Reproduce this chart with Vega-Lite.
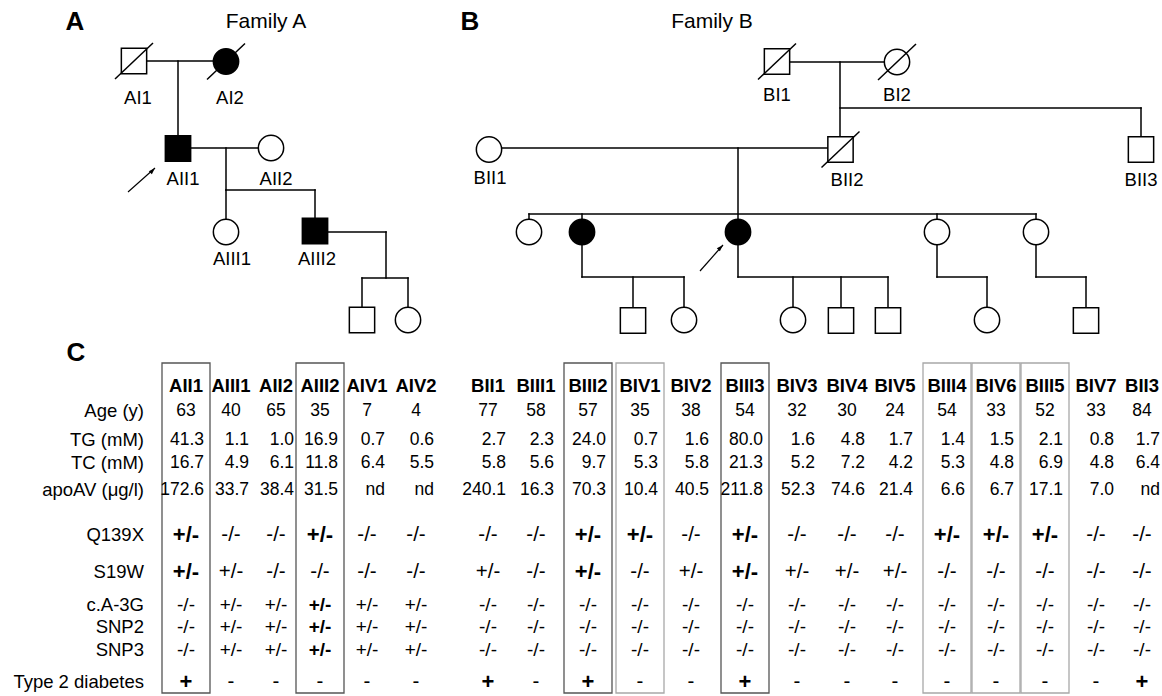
{
  "$schema": "https://vega.github.io/schema/vega-lite/v6.json",
  "width": 1162,
  "height": 696,
  "autosize": {"type": "fit", "contains": "padding"},
  "padding": 0,
  "background": "white",
  "config": {"view": {"stroke": null}, "text": {"font": "Liberation Sans", "color": "black"}},
  "datasets": {
    "people": [
      {"id": "AI1", "sex": "M", "x": 134, "y": 61, "affected": false, "deceased": true},
      {"id": "AI2", "sex": "F", "x": 226, "y": 61.5, "affected": true, "deceased": true},
      {"id": "AII1", "sex": "M", "x": 178, "y": 148.5, "affected": true, "deceased": false},
      {"id": "AII2", "sex": "F", "x": 271, "y": 148, "affected": false, "deceased": false},
      {"id": "AIII1", "sex": "F", "x": 226, "y": 232, "affected": false, "deceased": false},
      {"id": "AIII2", "sex": "M", "x": 315, "y": 231, "affected": true, "deceased": false},
      {"id": "AIV1", "sex": "M", "x": 362, "y": 320, "affected": false, "deceased": false},
      {"id": "AIV2", "sex": "F", "x": 408, "y": 320, "affected": false, "deceased": false},
      {"id": "BI1", "sex": "M", "x": 777, "y": 61.5, "affected": false, "deceased": true},
      {"id": "BI2", "sex": "F", "x": 897, "y": 62, "affected": false, "deceased": true},
      {"id": "BII1", "sex": "F", "x": 489, "y": 149.5, "affected": false, "deceased": false},
      {"id": "BII2", "sex": "M", "x": 840.5, "y": 149.5, "affected": false, "deceased": true},
      {"id": "BII3", "sex": "M", "x": 1141, "y": 149.5, "affected": false, "deceased": false},
      {"id": "BIII1", "sex": "F", "x": 529, "y": 232, "affected": false, "deceased": false},
      {"id": "BIII2", "sex": "F", "x": 582, "y": 232, "affected": true, "deceased": false},
      {"id": "BIII3", "sex": "F", "x": 738, "y": 232, "affected": true, "deceased": false},
      {"id": "BIII4", "sex": "F", "x": 937, "y": 232, "affected": false, "deceased": false},
      {"id": "BIII5", "sex": "F", "x": 1036, "y": 232, "affected": false, "deceased": false},
      {"id": "BIV1", "sex": "M", "x": 633, "y": 320.5, "affected": false, "deceased": false},
      {"id": "BIV2", "sex": "F", "x": 684, "y": 320, "affected": false, "deceased": false},
      {"id": "BIV3", "sex": "F", "x": 793, "y": 320, "affected": false, "deceased": false},
      {"id": "BIV4", "sex": "M", "x": 841, "y": 320.5, "affected": false, "deceased": false},
      {"id": "BIV5", "sex": "M", "x": 888, "y": 320.5, "affected": false, "deceased": false},
      {"id": "BIV6", "sex": "F", "x": 987, "y": 320, "affected": false, "deceased": false},
      {"id": "BIV7", "sex": "M", "x": 1086, "y": 320.5, "affected": false, "deceased": false}
    ],
    "links": [
      {"x": 146, "y": 61, "x2": 213, "y2": 61},
      {"x": 178, "y": 61, "x2": 178, "y2": 136},
      {"x": 191, "y": 148, "x2": 258, "y2": 148},
      {"x": 226, "y": 148, "x2": 226, "y2": 190},
      {"x": 226, "y": 190, "x2": 315, "y2": 190},
      {"x": 226, "y": 190, "x2": 226, "y2": 219},
      {"x": 315, "y": 190, "x2": 315, "y2": 218},
      {"x": 327, "y": 232, "x2": 386, "y2": 232},
      {"x": 386, "y": 232, "x2": 386, "y2": 278},
      {"x": 362, "y": 278, "x2": 408, "y2": 278},
      {"x": 362, "y": 278, "x2": 362, "y2": 307},
      {"x": 408, "y": 278, "x2": 408, "y2": 307},
      {"x": 789, "y": 62, "x2": 884, "y2": 62},
      {"x": 840, "y": 62, "x2": 840, "y2": 137},
      {"x": 840, "y": 108, "x2": 1141, "y2": 108},
      {"x": 1141, "y": 108, "x2": 1141, "y2": 137},
      {"x": 502, "y": 148, "x2": 828, "y2": 148},
      {"x": 738, "y": 148, "x2": 738, "y2": 219},
      {"x": 529, "y": 214, "x2": 1036, "y2": 214},
      {"x": 529, "y": 214, "x2": 529, "y2": 219},
      {"x": 582, "y": 214, "x2": 582, "y2": 219},
      {"x": 937, "y": 214, "x2": 937, "y2": 219},
      {"x": 1036, "y": 214, "x2": 1036, "y2": 219},
      {"x": 582, "y": 245, "x2": 582, "y2": 277},
      {"x": 582, "y": 277, "x2": 684, "y2": 277},
      {"x": 633, "y": 277, "x2": 633, "y2": 308},
      {"x": 684, "y": 277, "x2": 684, "y2": 307},
      {"x": 738, "y": 245, "x2": 738, "y2": 277},
      {"x": 738, "y": 277, "x2": 888, "y2": 277},
      {"x": 793, "y": 277, "x2": 793, "y2": 307},
      {"x": 841, "y": 277, "x2": 841, "y2": 308},
      {"x": 888, "y": 277, "x2": 888, "y2": 308},
      {"x": 937, "y": 245, "x2": 937, "y2": 277},
      {"x": 937, "y": 277, "x2": 987, "y2": 277},
      {"x": 987, "y": 277, "x2": 987, "y2": 307},
      {"x": 1036, "y": 245, "x2": 1036, "y2": 277},
      {"x": 1036, "y": 277, "x2": 1086, "y2": 277},
      {"x": 1086, "y": 277, "x2": 1086, "y2": 308}
    ],
    "arrows": [
      {"proband": "AII1", "x": 128, "y": 192, "x2": 155, "y2": 168},
      {"proband": "BIII3", "x": 700, "y": 271, "x2": 723, "y2": 245}
    ],
    "pedlabels": [
      {"text": "AI1", "x": 138, "y": 98},
      {"text": "AI2", "x": 230, "y": 98},
      {"text": "AII1", "x": 183, "y": 179},
      {"text": "AII2", "x": 276, "y": 179},
      {"text": "AIII1", "x": 232, "y": 259},
      {"text": "AIII2", "x": 317, "y": 259},
      {"text": "BI1", "x": 777, "y": 95},
      {"text": "BI2", "x": 897, "y": 95},
      {"text": "BII1", "x": 490, "y": 178},
      {"text": "BII2", "x": 847, "y": 180},
      {"text": "BII3", "x": 1141, "y": 180}
    ],
    "titles": [
      {"text": "A", "x": 75, "y": 22, "kind": "panel"},
      {"text": "B", "x": 470, "y": 22, "kind": "panel"},
      {"text": "C", "x": 76, "y": 353, "kind": "panel"},
      {"text": "Family A", "x": 266, "y": 22, "kind": "family"},
      {"text": "Family B", "x": 712, "y": 22, "kind": "family"}
    ],
    "cols": [
      {"id": "AII1", "x": 186, "box": "dark"},
      {"id": "AIII1", "x": 231, "box": null},
      {"id": "AII2", "x": 276, "box": null},
      {"id": "AIII2", "x": 320, "box": "dark"},
      {"id": "AIV1", "x": 367, "box": null},
      {"id": "AIV2", "x": 416, "box": null},
      {"id": "BII1", "x": 488, "box": null},
      {"id": "BIII1", "x": 536, "box": null},
      {"id": "BIII2", "x": 588, "box": "dark"},
      {"id": "BIV1", "x": 640, "box": "light"},
      {"id": "BIV2", "x": 691, "box": null},
      {"id": "BIII3", "x": 745, "box": "dark"},
      {"id": "BIV3", "x": 797, "box": null},
      {"id": "BIV4", "x": 847, "box": null},
      {"id": "BIV5", "x": 895, "box": null},
      {"id": "BIII4", "x": 947, "box": "light"},
      {"id": "BIV6", "x": 996, "box": "light"},
      {"id": "BIII5", "x": 1045, "box": "light"},
      {"id": "BIV7", "x": 1096, "box": null},
      {"id": "BII3", "x": 1142, "box": null}
    ],
    "rowdefs": [
      {"var": "Age", "label": "Age (y)", "y": 411, "kind": "age"},
      {"var": "TG", "label": "TG (mM)", "y": 440, "kind": "num"},
      {"var": "TC", "label": "TC (mM)", "y": 463, "kind": "num"},
      {"var": "apoAV", "label": "apoAV (μg/l)", "y": 490, "kind": "num"},
      {"var": "Q139X", "label": "Q139X", "y": 535, "kind": "geno"},
      {"var": "S19W", "label": "S19W", "y": 572, "kind": "geno"},
      {"var": "c.A-3G", "label": "c.A-3G", "y": 605, "kind": "geno_dense"},
      {"var": "SNP2", "label": "SNP2", "y": 627, "kind": "geno_dense"},
      {"var": "SNP3", "label": "SNP3", "y": 650, "kind": "geno_dense"},
      {"var": "T2D", "label": "Type 2 diabetes", "y": 682, "kind": "geno"}
    ],
    "cells": [
      {"id": "AII1", "var": "Age", "value": "63"}, {"id": "AIII1", "var": "Age", "value": "40"}, {"id": "AII2", "var": "Age", "value": "65"}, {"id": "AIII2", "var": "Age", "value": "35"}, {"id": "AIV1", "var": "Age", "value": "7"}, {"id": "AIV2", "var": "Age", "value": "4"}, {"id": "BII1", "var": "Age", "value": "77"}, {"id": "BIII1", "var": "Age", "value": "58"}, {"id": "BIII2", "var": "Age", "value": "57"}, {"id": "BIV1", "var": "Age", "value": "35"}, {"id": "BIV2", "var": "Age", "value": "38"}, {"id": "BIII3", "var": "Age", "value": "54"}, {"id": "BIV3", "var": "Age", "value": "32"}, {"id": "BIV4", "var": "Age", "value": "30"}, {"id": "BIV5", "var": "Age", "value": "24"}, {"id": "BIII4", "var": "Age", "value": "54"}, {"id": "BIV6", "var": "Age", "value": "33"}, {"id": "BIII5", "var": "Age", "value": "52"}, {"id": "BIV7", "var": "Age", "value": "33"}, {"id": "BII3", "var": "Age", "value": "84"},
      {"id": "AII1", "var": "TG", "value": "41.3"}, {"id": "AIII1", "var": "TG", "value": "1.1"}, {"id": "AII2", "var": "TG", "value": "1.0"}, {"id": "AIII2", "var": "TG", "value": "16.9"}, {"id": "AIV1", "var": "TG", "value": "0.7"}, {"id": "AIV2", "var": "TG", "value": "0.6"}, {"id": "BII1", "var": "TG", "value": "2.7"}, {"id": "BIII1", "var": "TG", "value": "2.3"}, {"id": "BIII2", "var": "TG", "value": "24.0"}, {"id": "BIV1", "var": "TG", "value": "0.7"}, {"id": "BIV2", "var": "TG", "value": "1.6"}, {"id": "BIII3", "var": "TG", "value": "80.0"}, {"id": "BIV3", "var": "TG", "value": "1.6"}, {"id": "BIV4", "var": "TG", "value": "4.8"}, {"id": "BIV5", "var": "TG", "value": "1.7"}, {"id": "BIII4", "var": "TG", "value": "1.4"}, {"id": "BIV6", "var": "TG", "value": "1.5"}, {"id": "BIII5", "var": "TG", "value": "2.1"}, {"id": "BIV7", "var": "TG", "value": "0.8"}, {"id": "BII3", "var": "TG", "value": "1.7"},
      {"id": "AII1", "var": "TC", "value": "16.7"}, {"id": "AIII1", "var": "TC", "value": "4.9"}, {"id": "AII2", "var": "TC", "value": "6.1"}, {"id": "AIII2", "var": "TC", "value": "11.8"}, {"id": "AIV1", "var": "TC", "value": "6.4"}, {"id": "AIV2", "var": "TC", "value": "5.5"}, {"id": "BII1", "var": "TC", "value": "5.8"}, {"id": "BIII1", "var": "TC", "value": "5.6"}, {"id": "BIII2", "var": "TC", "value": "9.7"}, {"id": "BIV1", "var": "TC", "value": "5.3"}, {"id": "BIV2", "var": "TC", "value": "5.8"}, {"id": "BIII3", "var": "TC", "value": "21.3"}, {"id": "BIV3", "var": "TC", "value": "5.2"}, {"id": "BIV4", "var": "TC", "value": "7.2"}, {"id": "BIV5", "var": "TC", "value": "4.2"}, {"id": "BIII4", "var": "TC", "value": "5.3"}, {"id": "BIV6", "var": "TC", "value": "4.8"}, {"id": "BIII5", "var": "TC", "value": "6.9"}, {"id": "BIV7", "var": "TC", "value": "4.8"}, {"id": "BII3", "var": "TC", "value": "6.4"},
      {"id": "AII1", "var": "apoAV", "value": "172.6"}, {"id": "AIII1", "var": "apoAV", "value": "33.7"}, {"id": "AII2", "var": "apoAV", "value": "38.4"}, {"id": "AIII2", "var": "apoAV", "value": "31.5"}, {"id": "AIV1", "var": "apoAV", "value": "nd"}, {"id": "AIV2", "var": "apoAV", "value": "nd"}, {"id": "BII1", "var": "apoAV", "value": "240.1"}, {"id": "BIII1", "var": "apoAV", "value": "16.3"}, {"id": "BIII2", "var": "apoAV", "value": "70.3"}, {"id": "BIV1", "var": "apoAV", "value": "10.4"}, {"id": "BIV2", "var": "apoAV", "value": "40.5"}, {"id": "BIII3", "var": "apoAV", "value": "211.8"}, {"id": "BIV3", "var": "apoAV", "value": "52.3"}, {"id": "BIV4", "var": "apoAV", "value": "74.6"}, {"id": "BIV5", "var": "apoAV", "value": "21.4"}, {"id": "BIII4", "var": "apoAV", "value": "6.6"}, {"id": "BIV6", "var": "apoAV", "value": "6.7"}, {"id": "BIII5", "var": "apoAV", "value": "17.1"}, {"id": "BIV7", "var": "apoAV", "value": "7.0"}, {"id": "BII3", "var": "apoAV", "value": "nd"},
      {"id": "AII1", "var": "Q139X", "value": "+/-", "highlight": true}, {"id": "AIII1", "var": "Q139X", "value": "-/-"}, {"id": "AII2", "var": "Q139X", "value": "-/-"}, {"id": "AIII2", "var": "Q139X", "value": "+/-", "highlight": true}, {"id": "AIV1", "var": "Q139X", "value": "-/-"}, {"id": "AIV2", "var": "Q139X", "value": "-/-"}, {"id": "BII1", "var": "Q139X", "value": "-/-"}, {"id": "BIII1", "var": "Q139X", "value": "-/-"}, {"id": "BIII2", "var": "Q139X", "value": "+/-", "highlight": true}, {"id": "BIV1", "var": "Q139X", "value": "+/-", "highlight": true}, {"id": "BIV2", "var": "Q139X", "value": "-/-"}, {"id": "BIII3", "var": "Q139X", "value": "+/-", "highlight": true}, {"id": "BIV3", "var": "Q139X", "value": "-/-"}, {"id": "BIV4", "var": "Q139X", "value": "-/-"}, {"id": "BIV5", "var": "Q139X", "value": "-/-"}, {"id": "BIII4", "var": "Q139X", "value": "+/-", "highlight": true}, {"id": "BIV6", "var": "Q139X", "value": "+/-", "highlight": true}, {"id": "BIII5", "var": "Q139X", "value": "+/-", "highlight": true}, {"id": "BIV7", "var": "Q139X", "value": "-/-"}, {"id": "BII3", "var": "Q139X", "value": "-/-"},
      {"id": "AII1", "var": "S19W", "value": "+/-", "highlight": true}, {"id": "AIII1", "var": "S19W", "value": "+/-"}, {"id": "AII2", "var": "S19W", "value": "-/-"}, {"id": "AIII2", "var": "S19W", "value": "-/-"}, {"id": "AIV1", "var": "S19W", "value": "-/-"}, {"id": "AIV2", "var": "S19W", "value": "-/-"}, {"id": "BII1", "var": "S19W", "value": "+/-"}, {"id": "BIII1", "var": "S19W", "value": "-/-"}, {"id": "BIII2", "var": "S19W", "value": "+/-", "highlight": true}, {"id": "BIV1", "var": "S19W", "value": "-/-"}, {"id": "BIV2", "var": "S19W", "value": "+/-"}, {"id": "BIII3", "var": "S19W", "value": "+/-", "highlight": true}, {"id": "BIV3", "var": "S19W", "value": "+/-"}, {"id": "BIV4", "var": "S19W", "value": "+/-"}, {"id": "BIV5", "var": "S19W", "value": "+/-"}, {"id": "BIII4", "var": "S19W", "value": "-/-"}, {"id": "BIV6", "var": "S19W", "value": "-/-"}, {"id": "BIII5", "var": "S19W", "value": "-/-"}, {"id": "BIV7", "var": "S19W", "value": "-/-"}, {"id": "BII3", "var": "S19W", "value": "-/-"},
      {"id": "AII1", "var": "c.A-3G", "value": "-/-"}, {"id": "AIII1", "var": "c.A-3G", "value": "+/-"}, {"id": "AII2", "var": "c.A-3G", "value": "+/-"}, {"id": "AIII2", "var": "c.A-3G", "value": "+/-", "highlight": true}, {"id": "AIV1", "var": "c.A-3G", "value": "+/-"}, {"id": "AIV2", "var": "c.A-3G", "value": "+/-"}, {"id": "BII1", "var": "c.A-3G", "value": "-/-"}, {"id": "BIII1", "var": "c.A-3G", "value": "-/-"}, {"id": "BIII2", "var": "c.A-3G", "value": "-/-"}, {"id": "BIV1", "var": "c.A-3G", "value": "-/-"}, {"id": "BIV2", "var": "c.A-3G", "value": "-/-"}, {"id": "BIII3", "var": "c.A-3G", "value": "-/-"}, {"id": "BIV3", "var": "c.A-3G", "value": "-/-"}, {"id": "BIV4", "var": "c.A-3G", "value": "-/-"}, {"id": "BIV5", "var": "c.A-3G", "value": "-/-"}, {"id": "BIII4", "var": "c.A-3G", "value": "-/-"}, {"id": "BIV6", "var": "c.A-3G", "value": "-/-"}, {"id": "BIII5", "var": "c.A-3G", "value": "-/-"}, {"id": "BIV7", "var": "c.A-3G", "value": "-/-"}, {"id": "BII3", "var": "c.A-3G", "value": "-/-"},
      {"id": "AII1", "var": "SNP2", "value": "-/-"}, {"id": "AIII1", "var": "SNP2", "value": "+/-"}, {"id": "AII2", "var": "SNP2", "value": "+/-"}, {"id": "AIII2", "var": "SNP2", "value": "+/-", "highlight": true}, {"id": "AIV1", "var": "SNP2", "value": "+/-"}, {"id": "AIV2", "var": "SNP2", "value": "+/-"}, {"id": "BII1", "var": "SNP2", "value": "-/-"}, {"id": "BIII1", "var": "SNP2", "value": "-/-"}, {"id": "BIII2", "var": "SNP2", "value": "-/-"}, {"id": "BIV1", "var": "SNP2", "value": "-/-"}, {"id": "BIV2", "var": "SNP2", "value": "-/-"}, {"id": "BIII3", "var": "SNP2", "value": "-/-"}, {"id": "BIV3", "var": "SNP2", "value": "-/-"}, {"id": "BIV4", "var": "SNP2", "value": "-/-"}, {"id": "BIV5", "var": "SNP2", "value": "-/-"}, {"id": "BIII4", "var": "SNP2", "value": "-/-"}, {"id": "BIV6", "var": "SNP2", "value": "-/-"}, {"id": "BIII5", "var": "SNP2", "value": "-/-"}, {"id": "BIV7", "var": "SNP2", "value": "-/-"}, {"id": "BII3", "var": "SNP2", "value": "-/-"},
      {"id": "AII1", "var": "SNP3", "value": "-/-"}, {"id": "AIII1", "var": "SNP3", "value": "+/-"}, {"id": "AII2", "var": "SNP3", "value": "+/-"}, {"id": "AIII2", "var": "SNP3", "value": "+/-", "highlight": true}, {"id": "AIV1", "var": "SNP3", "value": "+/-"}, {"id": "AIV2", "var": "SNP3", "value": "+/-"}, {"id": "BII1", "var": "SNP3", "value": "-/-"}, {"id": "BIII1", "var": "SNP3", "value": "-/-"}, {"id": "BIII2", "var": "SNP3", "value": "-/-"}, {"id": "BIV1", "var": "SNP3", "value": "-/-"}, {"id": "BIV2", "var": "SNP3", "value": "-/-"}, {"id": "BIII3", "var": "SNP3", "value": "-/-"}, {"id": "BIV3", "var": "SNP3", "value": "-/-"}, {"id": "BIV4", "var": "SNP3", "value": "-/-"}, {"id": "BIV5", "var": "SNP3", "value": "-/-"}, {"id": "BIII4", "var": "SNP3", "value": "-/-"}, {"id": "BIV6", "var": "SNP3", "value": "-/-"}, {"id": "BIII5", "var": "SNP3", "value": "-/-"}, {"id": "BIV7", "var": "SNP3", "value": "-/-"}, {"id": "BII3", "var": "SNP3", "value": "-/-"},
      {"id": "AII1", "var": "T2D", "value": "+", "highlight": true}, {"id": "AIII1", "var": "T2D", "value": "-"}, {"id": "AII2", "var": "T2D", "value": "-"}, {"id": "AIII2", "var": "T2D", "value": "-"}, {"id": "AIV1", "var": "T2D", "value": "-"}, {"id": "AIV2", "var": "T2D", "value": "-"}, {"id": "BII1", "var": "T2D", "value": "+", "highlight": true}, {"id": "BIII1", "var": "T2D", "value": "-"}, {"id": "BIII2", "var": "T2D", "value": "+", "highlight": true}, {"id": "BIV1", "var": "T2D", "value": "-"}, {"id": "BIV2", "var": "T2D", "value": "-"}, {"id": "BIII3", "var": "T2D", "value": "+", "highlight": true}, {"id": "BIV3", "var": "T2D", "value": "-"}, {"id": "BIV4", "var": "T2D", "value": "-"}, {"id": "BIV5", "var": "T2D", "value": "-"}, {"id": "BIII4", "var": "T2D", "value": "-"}, {"id": "BIV6", "var": "T2D", "value": "-"}, {"id": "BIII5", "var": "T2D", "value": "-"}, {"id": "BIV7", "var": "T2D", "value": "-"}, {"id": "BII3", "var": "T2D", "value": "+", "highlight": true}
    ]
  },
  "layer": [
    {
      "data": {"name": "links"},
      "mark": {"type": "rule", "stroke": "black", "strokeWidth": 1.5, "strokeCap": "square"},
      "encoding": {
        "x": {"field": "x", "type": "quantitative", "scale": {"domain": [0, 1162], "nice": false, "zero": false}, "axis": null},
        "y": {"field": "y", "type": "quantitative", "scale": {"domain": [0, 696], "reverse": true, "nice": false, "zero": false}, "axis": null},
        "x2": {"field": "x2"},
        "y2": {"field": "y2"}
      }
    },
    {
      "data": {"name": "people"},
      "mark": {"type": "point", "filled": true, "stroke": "black", "strokeWidth": 1.5, "opacity": 1, "strokeOpacity": 1, "fillOpacity": 1},
      "encoding": {
        "x": {"field": "x", "type": "quantitative", "scale": {"domain": [0, 1162], "nice": false, "zero": false}, "axis": null},
        "y": {"field": "y", "type": "quantitative", "scale": {"domain": [0, 696], "reverse": true, "nice": false, "zero": false}, "axis": null},
        "shape": {"field": "sex", "type": "nominal", "scale": {"domain": ["M", "F"], "range": ["square", "circle"]}, "legend": null},
        "fill": {"condition": {"test": "datum.affected", "value": "black"}, "value": "white"},
        "size": {"value": 640}
      }
    },
    {
      "data": {"name": "people"},
      "transform": [{"filter": "datum.deceased"}],
      "mark": {"type": "rule", "stroke": "black", "strokeWidth": 1.5, "xOffset": -19, "yOffset": 18, "x2Offset": 19, "y2Offset": -18},
      "encoding": {
        "x": {"field": "x", "type": "quantitative", "scale": {"domain": [0, 1162], "nice": false, "zero": false}, "axis": null},
        "y": {"field": "y", "type": "quantitative", "scale": {"domain": [0, 696], "reverse": true, "nice": false, "zero": false}, "axis": null},
        "x2": {"field": "x"},
        "y2": {"field": "y"}
      }
    },
    {
      "data": {"name": "arrows"},
      "mark": {"type": "rule", "stroke": "black", "strokeWidth": 1.2},
      "encoding": {
        "x": {"field": "x", "type": "quantitative", "scale": {"domain": [0, 1162], "nice": false, "zero": false}, "axis": null},
        "y": {"field": "y", "type": "quantitative", "scale": {"domain": [0, 696], "reverse": true, "nice": false, "zero": false}, "axis": null},
        "x2": {"field": "x2"},
        "y2": {"field": "y2"}
      }
    },
    {
      "data": {"name": "arrows"},
      "mark": {"type": "point", "filled": true, "color": "black", "opacity": 1, "shape": "M0,0L-0.55,1.7L0.55,1.7Z", "size": 60, "angle": 45},
      "encoding": {
        "x": {"field": "x2", "type": "quantitative", "scale": {"domain": [0, 1162], "nice": false, "zero": false}, "axis": null},
        "y": {"field": "y2", "type": "quantitative", "scale": {"domain": [0, 696], "reverse": true, "nice": false, "zero": false}, "axis": null}
      }
    },
    {
      "data": {"name": "pedlabels"},
      "mark": {"type": "text", "fontSize": 18.5, "align": "center", "baseline": "middle"},
      "encoding": {
        "x": {"field": "x", "type": "quantitative", "scale": {"domain": [0, 1162], "nice": false, "zero": false}, "axis": null},
        "y": {"field": "y", "type": "quantitative", "scale": {"domain": [0, 696], "reverse": true, "nice": false, "zero": false}, "axis": null},
        "text": {"field": "text"}
      }
    },
    {
      "data": {"name": "titles"},
      "transform": [{"filter": "datum.kind === 'panel'"}],
      "mark": {"type": "text", "fontSize": 26, "fontWeight": 900, "align": "center", "baseline": "middle"},
      "encoding": {
        "x": {"field": "x", "type": "quantitative", "scale": {"domain": [0, 1162], "nice": false, "zero": false}, "axis": null},
        "y": {"field": "y", "type": "quantitative", "scale": {"domain": [0, 696], "reverse": true, "nice": false, "zero": false}, "axis": null},
        "text": {"field": "text"}
      }
    },
    {
      "data": {"name": "titles"},
      "transform": [{"filter": "datum.kind === 'family'"}],
      "mark": {"type": "text", "fontSize": 21, "align": "center", "baseline": "middle"},
      "encoding": {
        "x": {"field": "x", "type": "quantitative", "scale": {"domain": [0, 1162], "nice": false, "zero": false}, "axis": null},
        "y": {"field": "y", "type": "quantitative", "scale": {"domain": [0, 696], "reverse": true, "nice": false, "zero": false}, "axis": null},
        "text": {"field": "text"}
      }
    },
    {
      "data": {"name": "cols"},
      "transform": [{"filter": "datum.box != null"}],
      "mark": {"type": "rect", "filled": false, "strokeWidth": 1.3, "xOffset": -24, "x2Offset": 24},
      "encoding": {
        "x": {"field": "x", "type": "quantitative", "scale": {"domain": [0, 1162], "nice": false, "zero": false}, "axis": null},
        "x2": {"field": "x"},
        "y": {"datum": 363, "type": "quantitative", "scale": {"domain": [0, 696], "reverse": true, "nice": false, "zero": false}, "axis": null},
        "y2": {"datum": 693},
        "stroke": {"condition": {"test": "datum.box === 'dark'", "value": "#555555"}, "value": "#a8a8a8"}
      }
    },
    {
      "data": {"name": "cols"},
      "mark": {"type": "text", "fontSize": 18.5, "fontWeight": "bold", "align": "center", "baseline": "middle"},
      "encoding": {
        "x": {"field": "x", "type": "quantitative", "scale": {"domain": [0, 1162], "nice": false, "zero": false}, "axis": null},
        "y": {"datum": 386, "type": "quantitative", "scale": {"domain": [0, 696], "reverse": true, "nice": false, "zero": false}, "axis": null},
        "text": {"field": "id"}
      }
    },
    {
      "data": {"name": "rowdefs"},
      "mark": {"type": "text", "fontSize": 18.5, "align": "right", "baseline": "middle"},
      "encoding": {
        "x": {"datum": 144, "type": "quantitative", "scale": {"domain": [0, 1162], "nice": false, "zero": false}, "axis": null},
        "y": {"field": "y", "type": "quantitative", "scale": {"domain": [0, 696], "reverse": true, "nice": false, "zero": false}, "axis": null},
        "text": {"field": "label"}
      }
    },
    {
      "data": {"name": "cells"},
      "transform": [
        {"lookup": "id", "from": {"data": {"name": "cols"}, "key": "id", "fields": ["x"]}},
        {"lookup": "var", "from": {"data": {"name": "rowdefs"}, "key": "var", "fields": ["y", "kind"]}}
      ],
      "encoding": {
        "x": {"field": "x", "type": "quantitative", "scale": {"domain": [0, 1162], "nice": false, "zero": false}, "axis": null},
        "y": {"field": "y", "type": "quantitative", "scale": {"domain": [0, 696], "reverse": true, "nice": false, "zero": false}, "axis": null},
        "text": {"field": "value"}
      },
      "layer": [
        {
          "transform": [{"filter": "datum.kind === 'age'"}],
          "mark": {"type": "text", "fontSize": 17.5, "align": "center", "baseline": "middle"}
        },
        {
          "transform": [{"filter": "datum.kind === 'num'"}],
          "mark": {"type": "text", "fontSize": 17.5, "align": "right", "baseline": "middle", "dx": 18}
        },
        {
          "transform": [{"filter": "datum.kind === 'geno' && !datum.highlight"}],
          "mark": {"type": "text", "fontSize": 20.5, "align": "center", "baseline": "middle"}
        },
        {
          "transform": [{"filter": "datum.kind === 'geno' && datum.highlight"}],
          "mark": {"type": "text", "fontSize": 22, "fontWeight": "bold", "align": "center", "baseline": "middle"}
        },
        {
          "transform": [{"filter": "datum.kind === 'geno_dense' && !datum.highlight"}],
          "mark": {"type": "text", "fontSize": 19, "align": "center", "baseline": "middle"}
        },
        {
          "transform": [{"filter": "datum.kind === 'geno_dense' && datum.highlight"}],
          "mark": {"type": "text", "fontSize": 19, "fontWeight": "bold", "align": "center", "baseline": "middle"}
        }
      ]
    }
  ]
}
